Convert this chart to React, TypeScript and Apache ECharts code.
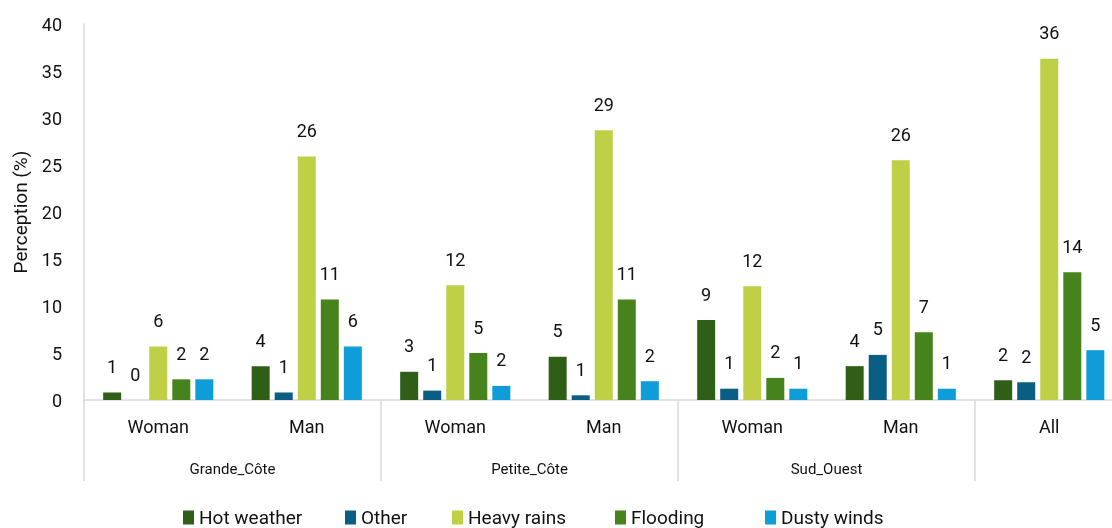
import React, { useEffect, useRef } from "react";
import * as echarts from "echarts";

const categories = ["Woman", "Man", "Woman", "Man", "Woman", "Man", "All"];
const groupLabels = ["", "Grande_Côte", "", "Petite_Côte", "", "Sud_Ouest", "", ""];
const groupBoundaries = [0, 2, 4, 6, 7];
const seriesNames = ["Hot weather", "Other", "Heavy rains", "Flooding", "Dusty winds"];
const hotWeather = [0.8, 3.6, 3.0, 4.6, 8.5, 3.6, 2.1];
const other = [0, 0.8, 1.0, 0.5, 1.2, 4.8, 1.9];
const heavyRains = [5.7, 25.9, 12.2, 28.7, 12.1, 25.5, 36.3];
const flooding = [2.2, 10.7, 5.0, 10.7, 2.35, 7.2, 13.6];
const dustyWinds = [2.2, 5.7, 1.5, 2.0, 1.2, 1.2, 5.3];
const seriesValues = [hotWeather, other, heavyRains, flooding, dustyWinds];
const colors = ["#2f5f16", "#0b5e83", "#bfcf46", "#47831d", "#0e9dd8"];
const legendLefts = [183, 345, 452, 615, 765];

const FONT = "Roboto, sans-serif";

export default function App() {
  const ref = useRef<HTMLDivElement>(null);
  useEffect(() => {
    const chart = echarts.init(ref.current!, null, { renderer: "svg" });
    chart.setOption({
      animation: false,
      textStyle: { fontFamily: FONT },
      grid: { left: 84, right: 6.5, top: 24, bottom: 128 },
      legend: seriesNames.map((n, i) => ({
        data: [n],
        left: legendLefts[i],
        top: 508,
        padding: 0,
        itemWidth: 11,
        itemHeight: 14,
        itemGap: 7,
        icon: "rect",
        textStyle: { fontSize: 19, lineHeight: 19, color: "#111", fontFamily: FONT },
      })),
      xAxis: [
        {
          type: "category",
          data: categories,
          position: "bottom",
          axisLine: { show: true, lineStyle: { color: "#d9d9d9", width: 1.5 } },
          axisTick: { show: false },
          axisLabel: { fontSize: 18, color: "#111", margin: 17, fontFamily: FONT },
        },
        {
          type: "category",
          data: groupLabels,
          position: "bottom",
          offset: 81,
          boundaryGap: false,
          axisLine: { show: false },
          axisTick: {
            show: true,
            inside: true,
            length: 81,
            interval: (i: number) => groupBoundaries.includes(i),
            lineStyle: { color: "#d9d9d9", width: 1.5 },
          },
          axisLabel: {
            inside: true,
            interval: 0,
            fontSize: 15,
            color: "#111",
            margin: 5,
            fontFamily: FONT,
          },
        },
      ],
      yAxis: {
        type: "value",
        min: 0,
        max: 40,
        interval: 5,
        name: "Perception (%)",
        nameLocation: "middle",
        nameGap: 54,
        nameTextStyle: { fontSize: 19, color: "#111", fontFamily: FONT },
        axisLine: { show: true, lineStyle: { color: "#d9d9d9", width: 1.5 } },
        axisTick: { show: false },
        splitLine: { show: false },
        axisLabel: { fontSize: 18, color: "#111", margin: 22, fontFamily: FONT },
      },
      series: seriesNames.map((n, i) => ({
        name: n,
        type: "bar",
        xAxisIndex: 0,
        data: seriesValues[i],
        barWidth: 18,
        barGap: "28%",
        itemStyle: { color: colors[i] },
        label: {
          show: true,
          position: "top",
          distance: 17,
          fontSize: 18,
          color: "#111",
          fontFamily: FONT,
          formatter: (p: any) => String(Math.round(p.value)),
        },
      })),
    });
    return () => chart.dispose();
  }, []);
  return (
    <div
      ref={ref}
      style={{ position: "fixed", left: 0, top: 0, width: 1130, height: 528 }}
    />
  );
}
